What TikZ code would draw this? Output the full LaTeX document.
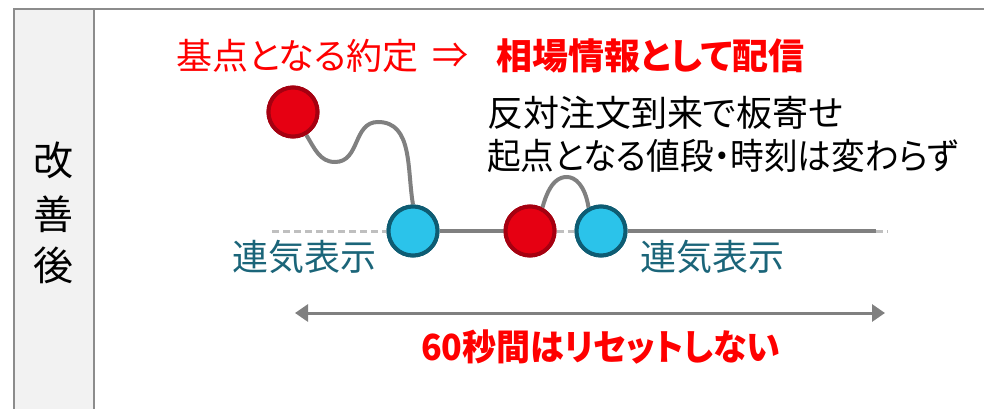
\documentclass[tikz,border=0pt]{standalone}
\usepackage{fontspec}
\setmainfont{Noto Sans CJK JP}[CharacterWidth=AlternateProportional]
\usetikzlibrary{arrows.meta}
\definecolor{frameg}{HTML}{8C8C8C}
\definecolor{colbg}{HTML}{F2F2F2}
\definecolor{linegray}{HTML}{808080}
\definecolor{dashgray}{HTML}{BFBFBF}
\definecolor{redtxt}{HTML}{FF0000}
\definecolor{redfill}{HTML}{E60012}
\definecolor{redbord}{HTML}{A50010}
\definecolor{bluefill}{HTML}{2BC3EA}
\definecolor{bluebord}{HTML}{0E5C73}
\definecolor{tealtxt}{HTML}{1B6579}
\tikzset{
  redball/.style={circle, minimum size=49pt, inner sep=0pt, fill=redfill, draw=redbord, line width=4pt},
  blueball/.style={circle, minimum size=49pt, inner sep=0pt, fill=bluefill, draw=bluebord, line width=4pt},
  txt/.style={inner sep=0pt, anchor=west, font=\fontsize{36}{40}\selectfont},
  coltxt/.style={inner sep=0pt, font=\fontsize{40}{44}\selectfont},
  wire/.style={draw=linegray, line width=4.5pt},
  curvewire/.style={draw=linegray, line width=4pt},
  dashwire/.style={draw=dashgray, line width=3pt, dash pattern=on 7pt off 4pt}
}
\begin{document}
\begin{tikzpicture}[x=1pt,y=1pt]
\useasboundingbox (0,0) rectangle (984,-409);
% frame
\fill[colbg] (14,-9.5) rectangle (94,-409);
\draw[frameg, line width=2pt] (14,-409) -- (14,-9.5) -- (984,-9.5);
\draw[frameg, line width=2pt] (94,-9.5) -- (94,-409);
\node[coltxt] (c1) at (53,-160) {改};
\node[coltxt] (c2) at (53,-214) {善};
\node[coltxt] (c3) at (53,-265) {後};
% title
\node[txt, text=redtxt] (t1) at (176,-56) {基点となる約定};
\node[txt, text=redtxt] (t2) at (432,-56) {⇒};
\node[txt, text=redtxt, font=\fontsize{36}{40}\selectfont\bfseries] (t3) at (496,-56) {相場情報として配信};
% notes
\node[txt] (n1) at (487,-113) {反対注文到来で板寄せ};
\node[txt] (n2) at (487,-156) {\scalebox{0.935}[1]{起点となる値段・時刻は変わらず}};
% baseline
\coordinate (dl) at (272,-231);
\coordinate (se) at (876,-231);
\coordinate (de) at (888,-231);
\node[redball] (r1) at (293,-112) {};
\node[blueball] (b1) at (413,-231) {};
\node[redball] (r2) at (530,-231) {};
\node[blueball] (b2) at (601,-231) {};
\draw[dashwire] (dl) -- (b1.west);
\draw[dashwire] (r2.east) -- (b2.west);
\draw[dashwire] (se) -- (de);
\draw[wire] (b1.east) -- (r2.west);
\draw[wire] (b2.east) -- (se);
% curves
\draw[curvewire] (r1.-60) to[out=-58,in=180] (335,-162) to[out=0,in=180,looseness=1.1] (378,-122) to[out=0,in=100] (b1.north);
\draw[curvewire] (r2.62) .. controls (550,-180) and (560,-177) .. (567,-177) .. controls (575,-177) and (585,-185) .. (b2.118);
% redraw balls on top
\node[redball] at (r1) {};
\node[blueball] at (b1) {};
\node[redball] at (r2) {};
\node[blueball] at (b2) {};
% labels
\node[txt, text=tealtxt] (l1) at (232,-257) {連気表示};
\node[txt, text=tealtxt] (l2) at (640,-257) {連気表示};
% arrow
\coordinate (al) at (295,-313);
\coordinate (ar) at (885,-313);
\draw[linegray, line width=3pt, {Triangle[length=13pt,width=17pt]}-{Triangle[length=13pt,width=17pt]}] (al) -- (ar);
\node[txt, text=redtxt, font=\fontsize{36}{40}\selectfont\bfseries] (bt) at (421,-347) {\scalebox{0.945}[1]{60秒間はリセットしない}};
\end{tikzpicture}
\end{document}
